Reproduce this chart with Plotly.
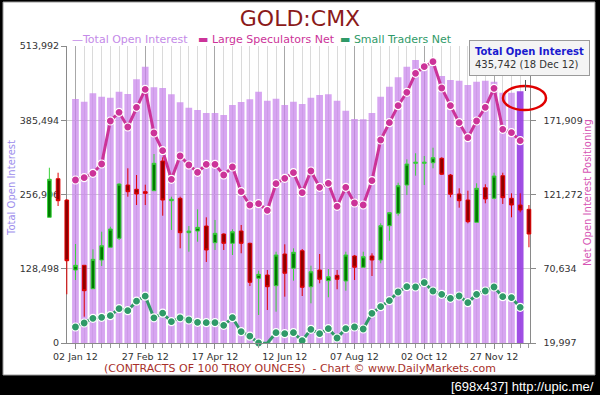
import plotly.graph_objects as go

# ---------------- data ----------------
tick_labels = ["02 Jan 12", "27 Feb 12", "17 Apr 12", "12 Jun 12", "07 Aug 12", "02 Oct 12", "27 Nov 12"]
tick_weeks = [0, 8, 16, 24, 32, 40, 48]
last_week_label = "18 Dec 12"

open_interest = [422266, 417648, 432073, 426304, 424573, 434957, 430919, 456299, 478226, 442456,
                 441303, 430342, 416495, 407266, 403230, 398038, 398038, 394577, 411883, 417075,
                 421690, 434957, 419382, 422843, 411883, 417648, 413613, 424573, 429189, 430342,
                 419382, 402077, 387654, 387077, 398038, 426304, 443609, 459761, 478226, 489760,
                 483991, 479376, 462070, 455148, 453994, 446495, 452263, 453994, 452263, 433227,
                 433227, 435742]

large_spec = [131163, 132732, 135732, 142075, 171401, 177334, 167309, 180744, 193020, 163217,
              151146, 131640, 147531, 141393, 136414, 141870, 141870, 134573, 140029, 123184,
              114113, 115000, 110498, 128640, 132322, 136142, 122502, 137301, 126184, 128912,
              113226, 126184, 115477, 114113, 130686, 158443, 170242, 181836, 190974, 203932,
              208434, 211844, 193907, 181836, 170242, 160012, 171401, 180744, 193702, 165740,
              163422, 157966]

small_traders = [30909, 33637, 36842, 37524, 38616, 43390, 42026, 48505, 51915, 37183,
                 40321, 34524, 37183, 35683, 34114, 33842, 33842, 32068, 37252, 27704,
                 24635, 19997, 19792, 27022, 26340, 27022, 21566, 29340, 26340, 29750,
                 23407, 29750, 30909, 29545, 40252, 44754, 48846, 54779, 58394, 58189,
                 61122, 55461, 53210, 50482, 52051, 47482, 53210, 55461, 58189, 51574,
                 50892, 44344]

# weekly price candles (start 3 weeks before the first bar)
price_open = [1671.2, 1745.3, 1704.4, 1570.1, 1579.1, 1534.2, 1589.3, 1613.7, 1630.9, 1733.2,
              1725.0, 1720.4, 1722.3, 1779.3, 1703.1, 1707.7, 1641.7, 1644.9, 1654.5, 1622.5,
              1639.2, 1621.3, 1644.9, 1621.3, 1554.2, 1560.5, 1540.0, 1600.8, 1573.4, 1607.1,
              1538.0, 1570.1, 1549.6, 1559.9, 1549.0, 1597.0, 1575.3, 1597.0, 1589.3, 1655.1,
              1678.9, 1733.2, 1774.9, 1774.9, 1776.0, 1784.5, 1752.4, 1716.0, 1704.4, 1661.6,
              1728.0, 1707.7, 1751.1, 1707.7, 1694.8, 1686.6]
price_high = [1766.4, 1756.8, 1705.8, 1620.0, 1579.7, 1609.8, 1643.6, 1653.2, 1736.5, 1765.3,
              1752.4, 1733.8, 1792.7, 1786.4, 1710.8, 1710.8, 1654.5, 1686.6, 1671.2, 1666.1,
              1640.5, 1648.2, 1656.5, 1622.5, 1568.8, 1570.1, 1605.2, 1619.4, 1611.7, 1610.4,
              1578.4, 1600.8, 1572.0, 1570.1, 1605.2, 1598.9, 1605.2, 1602.2, 1659.7, 1680.8,
              1737.6, 1782.5, 1794.1, 1788.9, 1804.8, 1786.4, 1754.3, 1726.9, 1722.3, 1736.5,
              1734.6, 1756.8, 1756.8, 1717.3, 1717.3, 1694.8]
price_low = [1671.2, 1692.9, 1523.5, 1550.9, 1480.5, 1534.2, 1577.8, 1613.7, 1627.7, 1710.8,
             1694.8, 1694.8, 1722.3, 1674.3, 1646.9, 1611.7, 1605.2, 1624.4, 1585.5, 1608.5,
             1608.5, 1598.9, 1602.2, 1539.4, 1483.7, 1493.3, 1490.1, 1518.9, 1549.6, 1520.2,
             1506.2, 1544.6, 1517.7, 1533.1, 1530.4, 1550.9, 1575.3, 1558.6, 1583.0, 1626.3,
             1674.3, 1714.0, 1751.1, 1733.2, 1765.3, 1752.4, 1709.6, 1689.7, 1659.7, 1661.6,
             1698.1, 1705.8, 1696.8, 1671.2, 1680.8, 1613.7]
price_close = [1744.2, 1703.1, 1587.9, 1579.1, 1530.4, 1590.6, 1616.7, 1648.8, 1735.1, 1720.4,
               1716.0, 1717.3, 1774.9, 1704.4, 1705.8, 1641.7, 1644.9, 1652.0, 1608.5, 1640.5,
               1621.3, 1643.6, 1621.3, 1546.5, 1561.8, 1538.0, 1598.9, 1563.8, 1604.1, 1536.9,
               1566.8, 1552.3, 1557.2, 1552.3, 1598.9, 1575.3, 1595.6, 1589.3, 1655.1, 1680.1,
               1731.9, 1773.5, 1776.8, 1776.8, 1785.6, 1753.8, 1715.4, 1703.1, 1662.8, 1726.9,
               1706.4, 1750.5, 1708.9, 1694.8, 1685.3, 1639.2]

oi_ticks = [0, 128498, 256996, 385494, 513992]
net_ticks = [19997, 70634, 121272, 171909]
net_top = 222547

# ---------------- figure ----------------
W, H = 600, 395
ML, MR, MT, MB = 45, 66, 46, 52
PW, PH = W - ML - MR, H - MT - MB


def px(p):
    return (p - ML) / PW


def py(q):
    return (H - MB - q) / PH


weeks = list(range(len(open_interest)))
candle_weeks = [i - 3 for i in range(len(price_close))]
bar_colors = ["rgba(200,130,235,0.72)"] * (len(weeks) - 1) + ["rgba(150,60,225,0.9)"]

fig = go.Figure()
fig.add_trace(go.Bar(x=weeks, y=open_interest, name="Total Open Interest",
                     marker=dict(color=bar_colors, line=dict(width=0)),
                     xaxis="x", yaxis="y"))
fig.add_trace(go.Scatter(x=weeks, y=large_spec, name="Large Speculators Net",
                         mode="lines+markers", cliponaxis=False,
                         line=dict(color="#CC3399", width=3),
                         marker=dict(size=8, color="#CC3399", line=dict(color="white", width=1.2)),
                         xaxis="x", yaxis="y2"))
fig.add_trace(go.Scatter(x=weeks, y=small_traders, name="Small Traders Net",
                         mode="lines+markers", cliponaxis=False,
                         line=dict(color="#2F9A68", width=3),
                         marker=dict(size=8, color="#2F9A68", line=dict(color="white", width=1.2)),
                         xaxis="x", yaxis="y2"))
fig.add_trace(go.Candlestick(x=candle_weeks, open=price_open, high=price_high,
                             low=price_low, close=price_close, name="Price",
                             whiskerwidth=0,
                             increasing=dict(line=dict(color="#3BD23B", width=1), fillcolor="#007A00"),
                             decreasing=dict(line=dict(color="#E00000", width=1), fillcolor="#8E0000"),
                             xaxis="x2", yaxis="y3"))

x_dom = [px(67), px(529.5)]
axis_font = dict(family="DejaVu Sans", size=9.5, color="#333333")

fig.update_layout(
    width=W, height=H,
    margin=dict(l=ML, r=MR, t=MT, b=MB),
    paper_bgcolor="black",
    plot_bgcolor="rgba(0,0,0,0)",
    showlegend=False,
    hovermode=False,
    bargap=0.23,
    boxgap=0.4,
    font=dict(family="DejaVu Sans", size=10, color="#333333"),
    title=dict(text="GOLD:CMX", x=0.5, xanchor="center", y=1 - 18 / H, yanchor="middle",
               font=dict(family="DejaVu Sans", size=22, color="#8B1A1A")),
    xaxis=dict(domain=x_dom, range=[-0.97, 52.07], anchor="y",
               tickmode="array", tickvals=tick_weeks, ticktext=tick_labels,
               ticks="outside", ticklen=5, tickcolor="#8a8a8a",
               showgrid=True, gridcolor="#A8A8A8", gridwidth=1,
               showline=True, linecolor="#8a8a8a", zeroline=False,
               tickfont=axis_font,
               minor=dict(dtick=1, tick0=0, ticks="outside", ticklen=4, tickcolor="#9a9a9a",
                          showgrid=True, gridcolor="#DADADA")),
    yaxis=dict(range=[0, oi_ticks[-1]], anchor="x",
               tickmode="array", tickvals=oi_ticks, ticktext=[f"{v:,}" for v in oi_ticks],
               ticks="outside", ticklen=5, tickcolor="#8a8a8a",
               showline=True, linecolor="#8a8a8a", gridcolor="#CFCFCF", zeroline=False,
               tickfont=axis_font),
    yaxis2=dict(range=[net_ticks[0], net_top], overlaying="y", side="right", anchor="x",
                tickmode="array", tickvals=net_ticks, ticktext=[f"{v:,}" for v in net_ticks],
                ticks="outside", ticklen=5, tickcolor="#8a8a8a", ticklabelstandoff=6,
                showline=True, linecolor="#8a8a8a", showgrid=False, zeroline=False,
                tickfont=axis_font),
    xaxis2=dict(domain=[0, 1], range=[-3.5, 52.58], anchor="y3", visible=False,
                rangeslider=dict(visible=False)),
    yaxis3=dict(domain=[0, 1], range=[1430, 2000], anchor="x2", visible=False),
)

# white chart card on black frame
fig.add_shape(type="rect", xref="paper", yref="paper", layer="below",
              x0=px(3), x1=px(595), y0=py(375), y1=py(2),
              fillcolor="white", line=dict(color="#9a9a9a", width=1))
# red highlight ellipse
fig.add_shape(type="circle", xref="paper", yref="paper",
              x0=px(503), x1=px(546), y0=py(110), y1=py(86),
              line=dict(color="#E00000", width=2.5))
# tooltip pointer
fig.add_shape(type="line", xref="paper", yref="paper",
              x0=px(525.5), x1=px(525.5), y0=py(80), y1=py(91),
              line=dict(color="#555555", width=1))

# legend (coloured text entries)
leg = [("\u2014Total Open Interest", "#C48AE8", 70),
       ("\u25AC Large Speculators Net", "#CC3399", 196),
       ("\u25AC Small Traders Net", "#2F9A68", 338)]
for txt, col, xp in leg:
    fig.add_annotation(text=txt, xref="paper", yref="paper", x=px(xp), y=py(39),
                       xanchor="left", yanchor="middle", showarrow=False,
                       font=dict(family="DejaVu Sans", size=11, color=col))

# axis titles
fig.add_annotation(text="Total Open Interest", xref="paper", yref="paper",
                   x=px(11), y=py(188), textangle=-90, showarrow=False,
                   xanchor="center", yanchor="middle",
                   font=dict(family="DejaVu Sans", size=10, color="#9C8CEC"))
fig.add_annotation(text="Net Open Interest Positioning", xref="paper", yref="paper",
                   x=px(587), y=py(193), textangle=-90, showarrow=False,
                   xanchor="center", yanchor="middle",
                   font=dict(family="DejaVu Sans", size=10, color="#D654B4"))

# tooltip
fig.add_annotation(
    text=("<b><span style='color:#1A1ACF'>Total Open Interest</span></b><br>"
          f"{open_interest[-1]:,} ({last_week_label})"),
    xref="paper", yref="paper", x=px(529), y=py(58.5), xanchor="center", yanchor="middle",
    showarrow=False, align="left", bgcolor="#F4F4F4", bordercolor="#9a9a9a",
    borderwidth=1, borderpad=5,
    font=dict(family="DejaVu Sans", size=10, color="#333333"))

# footer
fig.add_annotation(text="(CONTRACTS OF 100 TROY OUNCES)  - Chart \u00a9 www.DailyMarkets.com",
                   xref="paper", yref="paper", x=px(300), y=py(368), showarrow=False,
                   xanchor="center", yanchor="middle",
                   font=dict(family="DejaVu Sans", size=11, color="#A8302A"))
fig.add_annotation(text="[698x437] http://upic.me/",
                   xref="paper", yref="paper", x=px(596), y=py(386), showarrow=False,
                   xanchor="right", yanchor="middle",
                   font=dict(family="Liberation Sans", size=13, color="white"))

fig.write_html("out.html",
               config={"displayModeBar": False},
               post_script="document.body.style.margin='0';document.body.style.overflow='hidden';")
